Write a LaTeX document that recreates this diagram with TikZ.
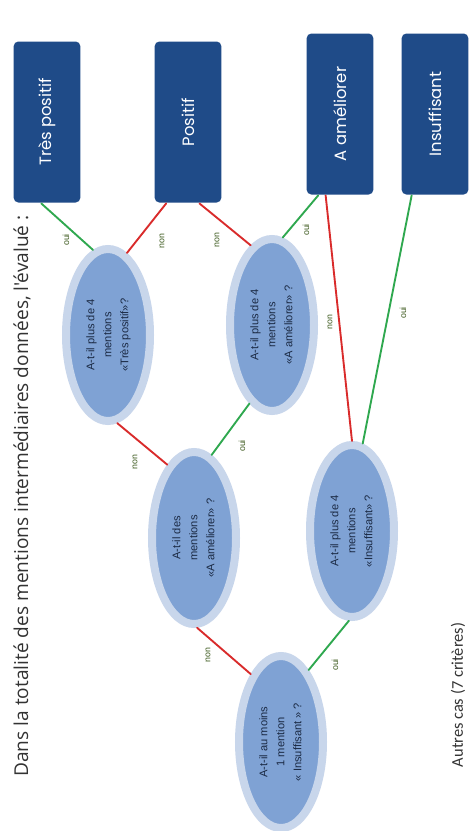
\documentclass[tikz,border=0pt]{standalone}
\usepackage{fontspec}
\setmainfont{Carlito}
\newfontfamily\titlefont{Open Sans}
\newfontfamily\boxfont{Poppins}
\newfontfamily\askfont{Liberation Sans}
\usetikzlibrary{shapes.geometric}

\definecolor{boxblue}{HTML}{1F4B88}
\definecolor{ellblue}{HTML}{7FA2D4}
\definecolor{haloblue}{HTML}{C8D6EB}
\definecolor{ink}{HTML}{1B2A44}
\definecolor{titlegrey}{HTML}{333333}
\definecolor{linered}{HTML}{D92B2B}
\definecolor{linegreen}{HTML}{2FA84F}
\definecolor{replygreen}{HTML}{3D5A1E}

% three lines of a question, turned a quarter
\newcommand{\ask}[3]{\rotatebox{90}{\begin{tabular}{@{}c@{}}#1\\#2\\#3\end{tabular}}}

\begin{document}
\begin{tikzpicture}[
            x = 0.03cm, % one pixel of the original
            y = -0.03cm,
            line width = 1.6pt, % line style
            line cap = round
        ]

        \tikzstyle{question}=[
            ellipse,
            draw = haloblue,
            line width = 0.24cm,
            fill = ellblue,
            inner sep = 0pt,
            minimum width = 2.52cm,
            minimum height = 5.16cm,
            text = ink,
            font = \askfont\fontsize{9.5}{14.5}\selectfont
        ]
        \tikzstyle{result}=[
            rectangle,
            rounded corners = 4pt,
            fill = boxblue,
            inner sep = 0pt,
            minimum width = 2cm,
            minimum height = 4.83cm,
            text = white,
            font = \boxfont\fontsize{14}{17}\selectfont
        ]
        \tikzstyle{reply}=[
            rotate = 90,
            inner sep = 0pt,
            text = replygreen,
            font = \askfont\fontsize{7.5}{8}\selectfont
        ]
        \tikzstyle{yesline}=[linegreen]
        \tikzstyle{noline}=[linered]

	\useasboundingbox (0,0) rectangle (468,831);
	\fill[white] (0,0) rectangle (468,831);

	\node[rotate=90, inner sep=0pt, text=titlegrey, font=\titlefont\fontsize{16.3}{19}\selectfont] (title) at (22,496) {Dans la totalité des mentions intermédiaires données, l'évalué :};

	\node[result] (11) at (47,122) {\rotatebox{90}{Très positif}};
	\node[result] (22) at (188,122) {\rotatebox{90}{Positif}};
	\node[result] (33) at (340,114) {\rotatebox{90}{A améliorer}};
	\node[result] (44) at (435,114) {\rotatebox{90}{Insuffisant}};

	\node[question] (1) at (108,335) {\ask{A-t-il plus de 4}{mentions}{«Très positif»?}};
	\node[question] (2) at (272,325) {\ask{A-t-il plus de 4}{mentions}{«A améliorer» ?}};
	\node[question] (3) at (194,538) {\ask{A-t-il des}{mentions}{«A améliorer» ?}};
	\node[question] (4) at (352,531) {\ask{A-t-il plus de 4}{mentions}{«Insuffisant» ?}};
	\node[question] (5) at (281,742) {\ask{A-t-il au moins}{1 mention}{« Insuffisant » ?}};

	\path[yesline] (1.100) edge (11.-94);
	\path[noline] (1.77) edge (22.-105);
	\path[noline] (2.105) edge (22.-82);
	\path[yesline] (2.83) edge (33.-105);
	\path[noline] (4.90) edge (33.-100);
	\path[yesline] (4.83) edge (44.-106);
	\path[yesline] (3.78) edge (2.-106);
	\path[noline] (3.110) edge (1.-84);
	\path[noline] (5.114) edge (3.-88);
	\path[yesline] (5.69) edge (4.-92);

	\node[reply] (r1) at (66,240) {oui};
	\node[reply] (r2) at (162,241) {non};
	\node[reply] (r3) at (217,240) {non};
	\node[reply] (r4) at (306,230) {oui};
	\node[reply] (r5) at (330,322) {non};
	\node[reply] (r6) at (403,313) {oui};
	\node[reply] (r7) at (242,446) {oui};
	\node[reply] (r8) at (135,462) {non};
	\node[reply] (r9) at (208,655) {non};
	\node[reply] (r10) at (335,665) {oui};

	\node[rotate=90, anchor=south, inner sep=0pt, text=titlegrey, font=\fontsize{14}{16}\selectfont] (rest) at (466,695) {Autres cas (7 critères)};

    \end{tikzpicture}
\end{document}
